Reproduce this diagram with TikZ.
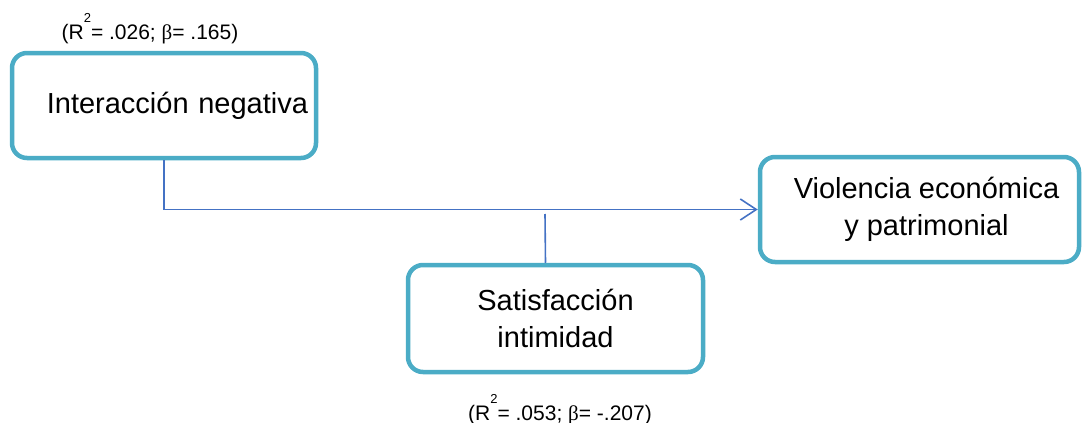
\documentclass[tikz,border=0pt]{standalone}
\usepackage{fontspec}
\setmainfont{Liberation Sans}
\newfontfamily\symbfont{Liberation Serif}
\usetikzlibrary{arrows.meta, positioning}
\definecolor{boxaqua}{RGB}{75,172,198}
\definecolor{lineblue}{RGB}{68,114,196}

\begin{document}
\begin{tikzpicture}[
    x=1pt, y=-1pt,
    box/.style={rectangle, draw=boxaqua, line width=4.5pt, rounded corners=15pt, fill=white, align=center, font=\fontsize{29}{37}\selectfont, inner sep=0pt},
    arrow/.style={-{Straight Barb[length=16pt, width=21pt]}, draw=lineblue, line width=1.6pt},
    link/.style={draw=lineblue, line width=1.6pt},
    stat/.style={font=\fontsize{21}{25}\selectfont, inner sep=0pt, anchor=base}
]
\useasboundingbox (0,0) rectangle (1082,423);

% Variables
\node[box, minimum width=304, minimum height=105, text width=288, align=right] (inter) at (164,105.5) {Interacción negativa};
\node[box, minimum width=295, minimum height=107] (sat) at (555.5,318.5) {Satisfacción\\intimidad};
\node[box, minimum width=319, minimum height=105] (viol) at (919.5,209.5) {\hspace*{14pt}Violencia económica\\\hspace*{14pt}y patrimonial};

% Fit statistics
\node[stat] (fitinter) at (150,39) {(R\raisebox{17pt}{\fontsize{13}{13}\selectfont 2}= .026; {\symbfont β}= .165)};
\node[stat] (fitsat) at (560,420) {(R\raisebox{17pt}{\fontsize{13}{13}\selectfont 2}= .053; {\symbfont β}= -.207)};

% Paths
\coordinate (join) at (545,214);
\draw[arrow] (inter.south) |- (viol.west);
\draw[link] ([xshift=-10]sat.north) -- (join);

\end{tikzpicture}
\end{document}
